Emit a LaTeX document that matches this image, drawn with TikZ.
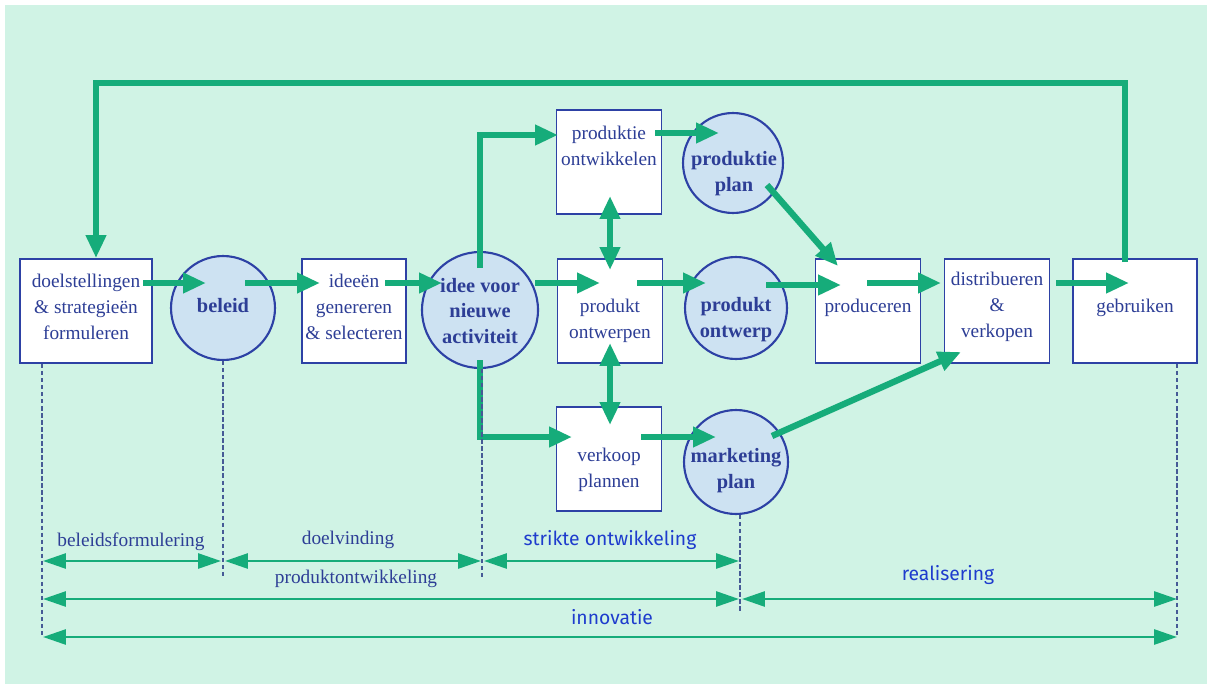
\documentclass[tikz,border=0pt]{standalone}
\usepackage{fontspec}
\setmainfont{Liberation Serif}
\newfontfamily\labsans{Fira Sans}
\usetikzlibrary{arrows.meta}
\definecolor{bgmint}{RGB}{208,243,229}
\definecolor{nodeblue}{RGB}{45,65,165}
\definecolor{discfill}{RGB}{205,226,242}
\definecolor{txtblue}{RGB}{45,62,150}
\definecolor{brightblue}{RGB}{30,60,205}
\definecolor{flowgreen}{RGB}{22,172,122}
\definecolor{guideblue}{RGB}{70,90,150}
\tikzset{
 box/.style={draw=nodeblue, line width=1.1pt, fill=white, inner sep=0pt},
 disc/.style={circle, draw=nodeblue, line width=1.2pt, fill=discfill, inner sep=0pt},
 txt/.style={text=txtblue, font=\fontsize{11}{14.7}\selectfont, align=center, inner sep=0pt},
 btxt/.style={text=txtblue, font=\fontsize{11.6}{14.7}\selectfont\bfseries, align=center, inner sep=0pt},
 flow/.style={draw=flowgreen, line width=3.6pt, -{Triangle[length=13pt,width=11pt]}},
 dual/.style={draw=flowgreen, line width=3.6pt, {Triangle[length=13pt,width=11pt]}-{Triangle[length=13pt,width=11pt]}},
 dim/.style={draw=flowgreen, line width=1.5pt, {Triangle[length=13pt,width=8.5pt]}-{Triangle[length=13pt,width=8.5pt]}},
 guide/.style={draw=guideblue, line width=0.6pt, dash pattern=on 2.5pt off 1.5pt},
 lab/.style={text=txtblue, font=\fontsize{11}{13}\selectfont, inner sep=0pt},
 lab2/.style={text=brightblue, font=\labsans\fontsize{11}{13}\selectfont, inner sep=0pt},
}
\begin{document}
\begin{tikzpicture}[x=0.02cm,y=-0.02cm]
\useasboundingbox (0,0) rectangle (1219,686);
\fill[white] (0,0) rectangle (1219,686);
\fill[bgmint] (5,5) rectangle (1207,684);

% boxes
\node[box, minimum width=2.64cm, minimum height=2.08cm] (doel) at (86,311) {};
\node[box, minimum width=2.08cm, minimum height=2.08cm] (idee) at (354,311) {};
\node[box, minimum width=2.10cm, minimum height=2.08cm] (pont) at (609,162) {};
\node[box, minimum width=2.10cm, minimum height=2.08cm] (pwerp) at (610,311) {};
\node[box, minimum width=2.10cm, minimum height=2.08cm] (verk) at (609,459) {};
\node[box, minimum width=2.10cm, minimum height=2.08cm] (prod) at (868,311) {};
\node[box, minimum width=2.10cm, minimum height=2.08cm] (dist) at (997,311) {};
\node[box, minimum width=2.48cm, minimum height=2.08cm] (geb) at (1135,311) {};

% circles
\node[disc, minimum size=2.08cm] (bel) at (223,308) {};
\node[disc, minimum size=2.32cm] (nieuw) at (480,310) {};
\node[disc, minimum size=2.00cm] (pplan) at (733,163) {};
\node[disc, minimum size=2.04cm] (pow) at (736,308) {};
\node[disc, minimum size=2.08cm] (mkt) at (736,462) {};

% texts
\node[txt] (tdoel) at (86,307) {doelstellingen\\\& strategieën\\formuleren};
\node[btxt] (tbel) at (223,306) {beleid};
\node[txt] (tidee) at (354,307) {ideeën\\genereren\\\& selecteren};
\node[btxt] (tnieuw) at (480,311) {idee voor\\nieuwe\\activiteit};
\node[txt] (tpont) at (609,146) {produktie\\ontwikkelen};
\node[txt] (tpwerp) at (610,321) {produkt\\ontwerpen};
\node[txt] (tverk) at (609,470) {verkoop\\plannen};
\node[btxt] (tpplan) at (734,174) {produktie\\plan};
\node[btxt] (tpow) at (736,320) {produkt\\ontwerp};
\node[btxt] (tmkt) at (736,471) {marketing\\plan};
\node[txt] (tprod) at (868,308) {produceren};
\node[txt] (tdist) at (997,307) {distribueren\\\&\\verkopen};
\node[txt] (tgeb) at (1135,308) {gebruiken};

% flow coordinates
\coordinate (fbA) at (1125,262);
\coordinate (fbB) at (1125,83);
\coordinate (fbC) at (96,83);
\coordinate (a1) at (143,283); \coordinate (a2) at (206,283);
\coordinate (b1) at (245,283); \coordinate (b2) at (320,283);
\coordinate (c1) at (385,283); \coordinate (c2) at (442,283);
\coordinate (d1) at (535,283); \coordinate (d2) at (600,283);
\coordinate (e1) at (480,268); \coordinate (e2) at (480,135); \coordinate (e3) at (558,135);
\coordinate (f1) at (480,360); \coordinate (f2) at (480,437); \coordinate (f3) at (572,437);
\coordinate (g1) at (655,133); \coordinate (g2) at (719,133);
\coordinate (h1) at (637,283); \coordinate (h2) at (706,283);
\coordinate (i1) at (641,437); \coordinate (i2) at (716,437);
\coordinate (j1) at (610,196); \coordinate (j2) at (610,270);
\coordinate (k1) at (610,343); \coordinate (k2) at (610,425);
\coordinate (l1) at (767,185); \coordinate (l2) at (838,266);
\coordinate (m1) at (766,285); \coordinate (m2) at (841,285);
\coordinate (n1) at (867,283); \coordinate (n2) at (941,283);
\coordinate (o1) at (1056,283); \coordinate (o2) at (1129,283);
\coordinate (q1) at (772,436); \coordinate (q2) at (961,352);

% flows
\draw[flow] (fbA) -- (fbB) -- (fbC) -- (doel.north -| fbC);
\draw[flow] (a1) -- (a2);
\draw[flow] (b1) -- (b2);
\draw[flow] (c1) -- (c2);
\draw[flow] (d1) -- (d2);
\draw[flow] (e1) -- (e2) -- (e3);
\draw[flow] (f1) -- (f2) -- (f3);
\draw[flow] (g1) -- (g2);
\draw[flow] (h1) -- (h2);
\draw[flow] (i1) -- (i2);
\draw[dual] (j1) -- (j2);
\draw[dual] (k1) -- (k2);
\draw[flow] (l1) -- (l2);
\draw[flow] (m1) -- (m2);
\draw[flow] (n1) -- (n2);
\draw[flow] (o1) -- (o2);
\draw[flow] (q1) -- (q2);

% guides
\coordinate (gA) at (42,637);
\coordinate (gB) at (223,578);
\coordinate (gC) at (482,578);
\coordinate (gD) at (740,612);
\coordinate (gE) at (1177,637);
\draw[guide] (doel.south -| gA) -- (gA);
\draw[guide] (bel.south) -- (gB);
\draw[guide] (nieuw.south -| gC) -- (gC);
\draw[guide] (mkt.south -| gD) -- (gD);
\draw[guide] (geb.south -| gE) -- (gE);

% dimension arrows
\coordinate (r1a) at (43,561); \coordinate (r1b) at (221,561);
\coordinate (r1c) at (225,561); \coordinate (r1d) at (481,561);
\coordinate (r1e) at (484,561); \coordinate (r1f) at (739,561);
\coordinate (r2a) at (43,599); \coordinate (r2b) at (739,599);
\coordinate (r2c) at (742,599); \coordinate (r2d) at (1177,599);
\coordinate (r3a) at (43,637); \coordinate (r3b) at (1177,637);
\draw[dim] (r1a) -- (r1b);
\draw[dim] (r1c) -- (r1d);
\draw[dim] (r1e) -- (r1f);
\draw[dim] (r2a) -- (r2b);
\draw[dim] (r2c) -- (r2d);
\draw[dim] (r3a) -- (r3b);

% labels
\node[lab] (lbf) at (131,542) {beleidsformulering};
\node[lab] (ldv) at (348,540) {doelvinding};
\node[lab2] (lso) at (610,540) {strikte ontwikkeling};
\node[lab] (lpo) at (356,579) {produktontwikkeling};
\node[lab2] (lre) at (948,575) {realisering};
\node[lab2] (lin) at (612,617) {innovatie};
\end{tikzpicture}
\end{document}
